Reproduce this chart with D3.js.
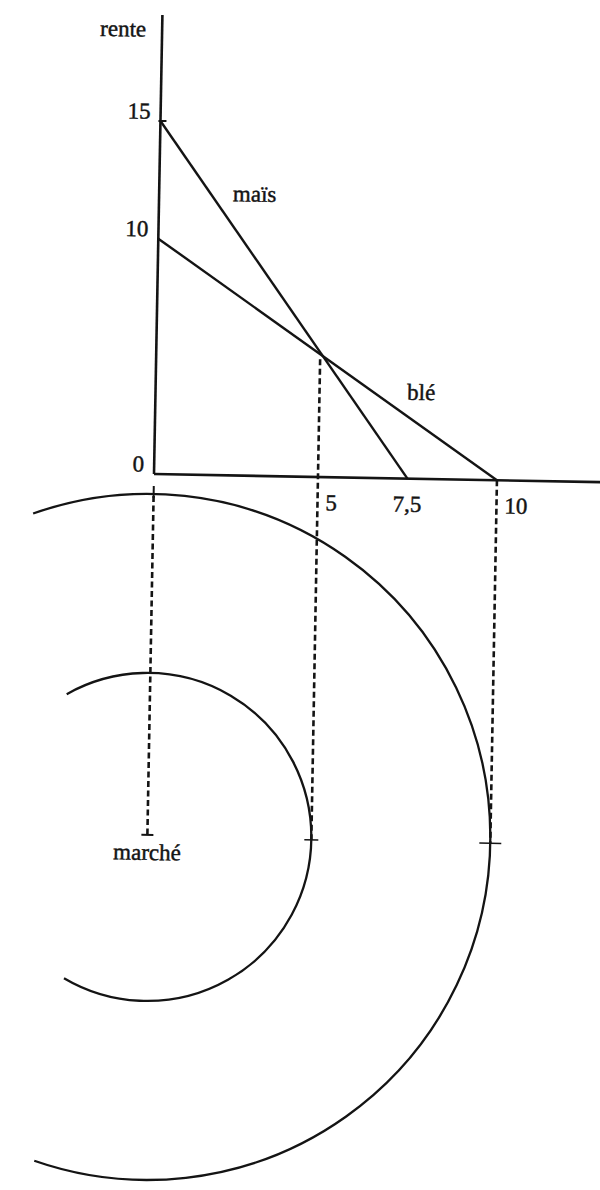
<!DOCTYPE html>
<html><head><meta charset="utf-8">
<script src="https://cdn.jsdelivr.net/npm/d3@7"></script>
<style>body{margin:0;background:#fff} text{stroke:#141414;stroke-width:0.45px}</style>
</head><body>
<svg id="c" width="600" height="1190"></svg>
<script>
// ---- data ----
const crops = ["maïs", "blé"];
const rentAtMarket = [15, 10];        // rent at distance 0
const limitDistance = [7.5, 10];      // distance where rent falls to 0
const xTicks = [5, 7.5, 10];
const yTicks = [0, 10, 15];
const ringDistances = [5, 10];        // zone boundaries (crossing point, blé limit)
const axisTitle = "rente";
const marketLabel = "marché";

// ---- layout ----
const svg = d3.select("#c");
const g = svg.append("g").attr("transform", "translate(154,474) rotate(1.05)");
const x = d3.scaleLinear().domain([0, 5, 10, 13.2]).range([0, 164, 343, 460]);
const y = d3.scaleLinear().domain([0, 19.5]).range([0, -459]);
const marketV = 363;
const ink = "#141414";
const font = "'Liberation Serif','DejaVu Serif',serif";
const fs = 23;
const fr = d3.formatLocale({decimal: ",", thousands: " ", grouping: [3], currency: ["", " €"]});
const fmt = fr.format("~g");

// axes
g.append("line").attr("x1", x(0)).attr("y1", y(19.5)).attr("x2", x(0)).attr("y2", y(0))
  .attr("stroke", ink).attr("stroke-width", 2.6);
g.append("line").attr("x1", x(0)).attr("y1", y(0)).attr("x2", x(13.2)).attr("y2", y(0))
  .attr("stroke", ink).attr("stroke-width", 2.6);

// rent lines
const line = d3.line().x(d => x(d[0])).y(d => y(d[1]));
crops.forEach((c, i) => {
  g.append("path").attr("d", line([[0, rentAtMarket[i]], [limitDistance[i], 0]]))
    .attr("fill", "none").attr("stroke", ink).attr("stroke-width", 2.4);
});

// y tick labels
g.selectAll(".yl").data(yTicks).join("text")
  .attr("x", -10).attr("y", d => y(d) - 2).attr("text-anchor", "end")
  .attr("font-family", font).attr("font-size", fs).attr("fill", ink).text(d => fmt(d));
// small tick at 15
g.append("line").attr("x1", -2).attr("x2", 6).attr("y1", y(15)).attr("y2", y(15))
  .attr("stroke", ink).attr("stroke-width", 2);

// x tick labels
g.selectAll(".xl").data(xTicks).join("text")
  .attr("x", d => ringDistances.includes(d) ? x(d) + 8 : x(d))
  .attr("y", 33)
  .attr("text-anchor", d => ringDistances.includes(d) ? "start" : "middle")
  .attr("font-family", font).attr("font-size", fs).attr("fill", ink).text(d => fmt(d));

// axis title
g.append("text").attr("x", -16).attr("y", y(19.5) + 22).attr("text-anchor", "end")
  .attr("font-family", font).attr("font-size", fs).attr("fill", ink).text(axisTitle);

// crop labels
const labelPos = [[2.25, 11.65], [7.45, 3.35]];
crops.forEach((c, i) => {
  g.append("text").attr("x", x(labelPos[i][0])).attr("y", y(labelPos[i][1]))
    .attr("font-family", font).attr("font-size", fs).attr("fill", ink).text(c);
});

// dashed projection lines
const dash = "6,3.5";
g.append("line").attr("x1", x(0)).attr("x2", x(0)).attr("y1", 22).attr("y2", marketV - 2)
  .attr("stroke", ink).attr("stroke-width", 2.6).attr("stroke-dasharray", dash);
g.append("line").attr("x1", x(0)).attr("x2", x(0)).attr("y1", 12).attr("y2", 24)
  .attr("stroke", ink).attr("stroke-width", 2);
g.append("line").attr("x1", x(0) - 6).attr("x2", x(0) + 6).attr("y1", marketV - 2).attr("y2", marketV - 2)
  .attr("stroke", ink).attr("stroke-width", 2);

ringDistances.forEach((d, i) => {
  const top = i === 0 ? y(5) : y(0);
  g.append("line").attr("x1", x(d)).attr("x2", x(d)).attr("y1", top).attr("y2", marketV)
    .attr("stroke", ink).attr("stroke-width", 2.6).attr("stroke-dasharray", dash);
  const w = i === 0 ? 7 : 11;
  g.append("line").attr("x1", x(d) - w).attr("x2", x(d) + w).attr("y1", marketV).attr("y2", marketV)
    .attr("stroke", ink).attr("stroke-width", 1.6);
});

// rings (arcs around the market)
const arcSpan = [[-120.5, 119.5], [-110.5, 108.2]];
ringDistances.forEach((d, i) => {
  const r = x(d) - x(0);
  const p = d3.path();
  const a0 = arcSpan[i][0] * Math.PI / 180, a1 = arcSpan[i][1] * Math.PI / 180;
  p.moveTo(x(0) + r * Math.cos(a0), marketV + r * Math.sin(a0));
  p.arc(x(0), marketV, r, a0, a1, false);
  g.append("path").attr("d", p.toString()).attr("fill", "none")
    .attr("stroke", ink).attr("stroke-width", 2.3);
});

// market label
g.append("text").attr("x", x(0)).attr("y", marketV + 23).attr("text-anchor", "middle")
  .attr("font-family", font).attr("font-size", fs).attr("fill", ink).text(marketLabel);
</script>
</body></html>
